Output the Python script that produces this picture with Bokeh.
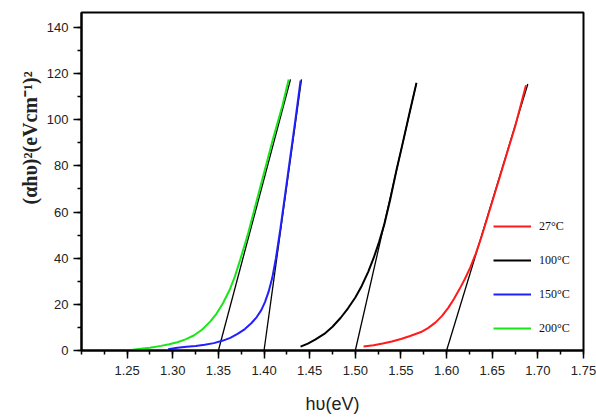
from bokeh.plotting import figure
from bokeh.models import (FixedTicker, Legend, LegendItem, Range1d, Title)
from bokeh.embed import file_html
from bokeh.resources import INLINE

# ---- data ----
red_x = [1.509, 1.52, 1.53, 1.54, 1.55, 1.56, 1.572, 1.58, 1.588, 1.595, 1.602, 1.608,
         1.614, 1.62, 1.626, 1.632, 1.638, 1.645, 1.655, 1.665, 1.675, 1.687]
red_y = [1.7, 2.3, 3.0, 3.9, 5.0, 6.3, 8.0, 9.8, 12.2, 15.0, 18.6, 22.3,
         26.5, 31.0, 36.0, 42.0, 49.0, 58.0, 71.0, 84.0, 97.0, 115.0]

black_x = [1.44, 1.448, 1.456, 1.466, 1.475, 1.484, 1.492, 1.5, 1.507, 1.514, 1.52,
           1.526, 1.532, 1.538, 1.545, 1.552, 1.56, 1.567]
black_y = [1.7, 3.0, 4.7, 7.2, 10.3, 14.2, 18.3, 23.0, 28.0, 34.0, 40.0,
           47.0, 55.0, 65.0, 78.0, 90.0, 104.0, 116.0]

blue_x = [1.295, 1.305, 1.315, 1.325, 1.335, 1.345, 1.355, 1.363, 1.371, 1.379, 1.386,
          1.392, 1.397, 1.401, 1.405, 1.409, 1.413, 1.418, 1.426, 1.434, 1.44]
blue_y = [0.5, 1.2, 1.6, 2.0, 2.5, 3.2, 4.3, 5.5, 7.2, 9.3, 11.8,
          14.5, 17.5, 21.0, 25.5, 31.5, 40.0, 53.0, 76.0, 99.0, 117.0]

green_x = [1.256, 1.265, 1.275, 1.287, 1.296, 1.305, 1.314, 1.323, 1.332, 1.341, 1.348,
           1.355, 1.362, 1.368, 1.374, 1.382, 1.39, 1.40, 1.41, 1.42, 1.427]
green_y = [0.3, 0.8, 1.2, 2.0, 2.7, 3.6, 4.8, 6.5, 9.0, 12.5, 16.0,
           20.5, 26.0, 32.0, 39.5, 50.0, 62.0, 77.0, 92.0, 106.0, 117.5]

# tangent (band-gap extrapolation) lines: x-intercept and upper end
tan_x0 = [1.60, 1.50, 1.40, 1.35]
tan_x1 = [1.689, 1.567, 1.441, 1.429]
tan_y1 = [115.5, 116.0, 117.5, 117.5]

labels = ["27°C", "100°C", "150°C", "200°C"]
colors = ["#ff1a1a", "#000000", "#2020ff", "#19e619"]

x_major = [1.25, 1.30, 1.35, 1.40, 1.45, 1.50, 1.55, 1.60, 1.65, 1.70, 1.75]
x_minor = [round(1.2 + 0.025 * i, 3) for i in range(23)]
y_major = [0, 20, 40, 60, 80, 100, 120, 140]
y_minor = list(range(0, 150, 10))

p = figure(width=596, height=419, output_backend="svg", toolbar_location=None,
           x_range=Range1d(1.2, 1.75), y_range=Range1d(0, 146.5),
           min_border_left=81, min_border_right=13, min_border_top=12,
           min_border_bottom=69)
p.background_fill_color = "white"
p.border_fill_color = "white"
p.outline_line_color = "black"
p.outline_line_width = 2
p.xgrid.visible = False
p.ygrid.visible = False

p.xaxis.ticker = FixedTicker(ticks=x_major, minor_ticks=x_minor)
p.yaxis.ticker = FixedTicker(ticks=y_major, minor_ticks=y_minor)
p.xaxis.major_label_overrides = {v: f"{v:.2f}" for v in x_major}

for ax in (p.xaxis, p.yaxis):
    ax.axis_line_width = 2
    ax.axis_line_color = "black"
    ax.major_tick_line_width = 1.5
    ax.minor_tick_line_width = 1.5
    ax.major_tick_in = 0
    ax.minor_tick_in = 0
    ax.major_tick_out = 8
    ax.minor_tick_out = 4
    ax.major_label_text_font = "Liberation Sans"
    ax.major_label_text_font_size = "13px"
    ax.major_label_text_color = "#222222"

p.xaxis.major_label_standoff = 7
p.yaxis.major_label_standoff = 5
p.xaxis.axis_label = "hυ(eV)"
p.xaxis.axis_label_text_font = "Liberation Sans"
p.xaxis.axis_label_text_font_style = "normal"
p.xaxis.axis_label_text_font_size = "18px"
p.xaxis.axis_label_text_color = "#222222"
p.xaxis.axis_label_standoff = 16

# tangent lines
for x0, x1, y1 in zip(tan_x0, tan_x1, tan_y1):
    p.line([x0, x1], [0, y1], line_color="black", line_width=1.3)

# data curves
series = [(red_x, red_y), (black_x, black_y), (blue_x, blue_y), (green_x, green_y)]
items = []
for (xs, ys), c, lab in zip(series, colors, labels):
    r = p.line(xs, ys, line_color=c, line_width=2)
    items.append(LegendItem(label=lab, renderers=[r]))

legend = Legend(items=items, location=(412, 12), orientation="vertical",
                glyph_width=38, glyph_height=20, label_height=20, spacing=14,
                label_standoff=8, padding=0, margin=0,
                border_line_color=None, background_fill_alpha=0,
                label_text_font="Liberation Serif", label_text_font_size="12px",
                label_text_color="#111111")
p.add_layout(legend, "center")

ylab = Title(text="(αhυ)²(eVcm⁻¹)²", align="left", offset=146,
             text_font="Liberation Serif", text_font_size="20px",
             text_font_style="bold", text_color="#222222", standoff=5)
p.add_layout(ylab, "left")

open("out.html", "w").write(file_html(p, INLINE))
